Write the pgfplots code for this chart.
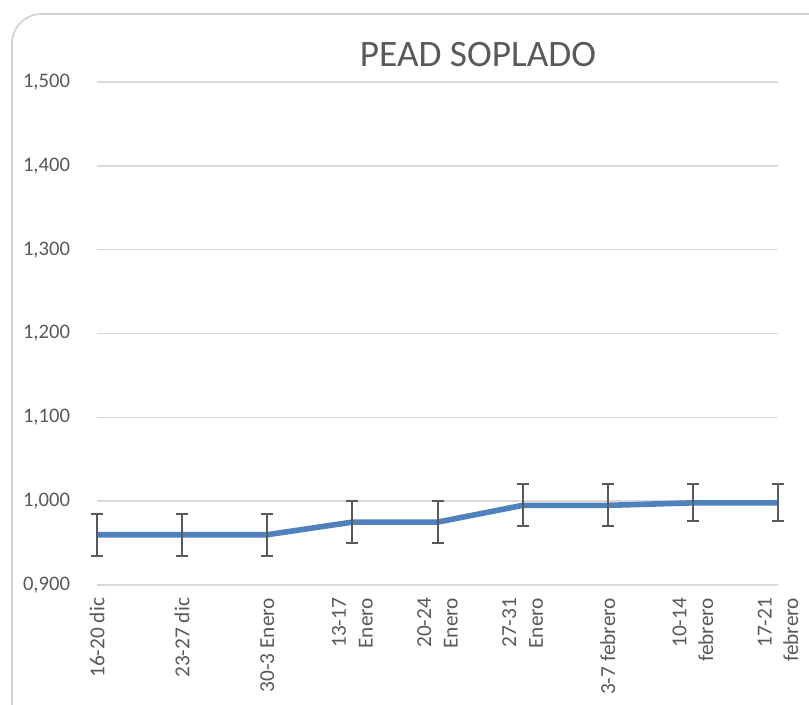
\documentclass[border=0pt]{standalone}
\usepackage{pgfplots}
\pgfplotsset{compat=1.18}
\usepackage{fontspec}
\setmainfont{Carlito}
\definecolor{linecol}{HTML}{4F81BD}
\definecolor{txtcol}{HTML}{595959}
\definecolor{gridcol}{HTML}{D9D9D9}
\definecolor{errcol}{HTML}{595959}
\begin{document}
\begin{tikzpicture}[x=0.75pt,y=0.75pt]
\useasboundingbox (0,0) rectangle (809,704);
\draw[gridcol!90!gray, line width=1.2pt, rounded corners=22pt] (12,690) rectangle (840,-40);
\begin{axis}[
  at={(72.75pt,89.25pt)}, anchor=south west,
  scale only axis, width=510.75pt, height=377.25pt,
  xmin=0, xmax=8, ymin=0.9, ymax=1.5,
  xtick={0,...,8},
  xticklabels={16-20 dic, 23-27 dic, 30-3 Enero, {13-17\\Enero}, {20-24\\Enero}, {27-31\\Enero}, 3-7 febrero, {10-14\\febrero}, {17-21\\febrero}},
  ytick={0.9,1.0,1.1,1.2,1.3,1.4,1.5},
  /pgf/number format/fixed, /pgf/number format/fixed zerofill, /pgf/number format/precision=3,
  /pgf/number format/use comma, /pgf/number format/assume math mode=true,
  yticklabel style={font=\fontsize{15.5}{18}\selectfont, text=txtcol, anchor=east, inner sep=0pt},
  yticklabel shift=20pt,
  xticklabel style={font=\fontsize{16}{20}\selectfont, text=txtcol, rotate=90, anchor=east, align=right, inner sep=0pt},
  xticklabel shift=9.5pt,
  axis line style={draw=none},
  tick style={draw=none},
  ymajorgrids, major grid style={gridcol, line width=1.2pt},
  clip=false,
]
\addplot[linecol, line width=4.2pt, line join=round, no markers,
  error bars/.cd, y dir=both, y explicit,
  error bar style={errcol, line width=1.5pt},
  error mark options={rotate=90, errcol, mark size=4.5pt, line width=1.5pt}]
  coordinates {
  (0,0.960) +- (0,0.025)
  (1,0.960) +- (0,0.025)
  (2,0.960) +- (0,0.025)
  (3,0.975) +- (0,0.025)
  (4,0.975) +- (0,0.025)
  (5,0.995) +- (0,0.025)
  (6,0.995) +- (0,0.025)
  (7,0.998) +- (0,0.022)
  (8,0.998) +- (0,0.022)
  };
\end{axis}
\node[text=txtcol, font=\fontsize{28}{32}\selectfont, inner sep=0pt] at (478,649) {PEAD SOPLADO};
\end{tikzpicture}
\end{document}
